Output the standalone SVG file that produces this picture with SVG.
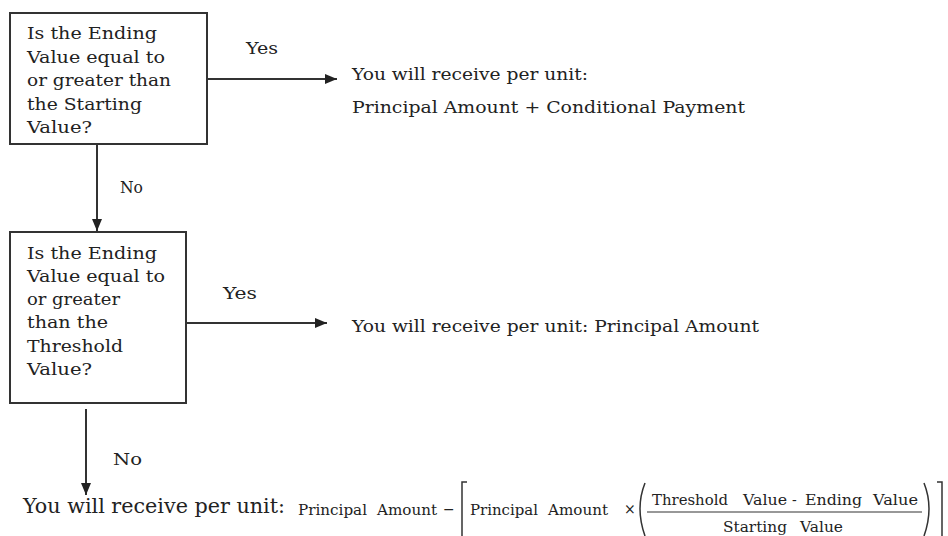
<svg xmlns="http://www.w3.org/2000/svg" width="948" height="536" viewBox="0 0 948 536">
<style>
.box{fill:#fff;stroke:#333;stroke-width:2}
.t{font-family:"DejaVu Serif","Liberation Serif",serif;font-size:17px;fill:#222}
.big{font-family:"DejaVu Serif","Liberation Serif",serif;font-size:21px;fill:#222}
.sm{font-family:"DejaVu Serif","Liberation Serif",serif;font-size:14px;fill:#222}
.ln{stroke:#333;stroke-width:2;fill:none}
.br{stroke:#333;stroke-width:1.5;fill:none}
</style>
<defs>
<marker id="ah" viewBox="0 0 12 10" refX="12" refY="5" markerWidth="12" markerHeight="10" markerUnits="userSpaceOnUse" orient="auto">
<path d="M0,0 L12,5 L0,10 Z" fill="#222"/>
</marker>
</defs>
<g id="q1">
<rect class="box" x="10" y="13" width="197" height="131"/>
<text class="t" x="27" y="39" textLength="130" lengthAdjust="spacingAndGlyphs">Is the Ending</text>
<text class="t" x="27" y="63" textLength="138" lengthAdjust="spacingAndGlyphs">Value equal to</text>
<text class="t" x="27" y="86" textLength="144" lengthAdjust="spacingAndGlyphs">or greater than</text>
<text class="t" x="27" y="110" textLength="115" lengthAdjust="spacingAndGlyphs">the Starting</text>
<text class="t" x="27" y="133" textLength="65" lengthAdjust="spacingAndGlyphs">Value?</text>
</g>
<g id="q2">
<rect class="box" x="10" y="232" width="176" height="171"/>
<text class="t" x="27" y="259" textLength="130" lengthAdjust="spacingAndGlyphs">Is the Ending</text>
<text class="t" x="27" y="282" textLength="138" lengthAdjust="spacingAndGlyphs">Value equal to</text>
<text class="t" x="27" y="305" textLength="93" lengthAdjust="spacingAndGlyphs">or greater</text>
<text class="t" x="27" y="328" textLength="81" lengthAdjust="spacingAndGlyphs">than the</text>
<text class="t" x="27" y="352" textLength="96" lengthAdjust="spacingAndGlyphs">Threshold</text>
<text class="t" x="27" y="375" textLength="65" lengthAdjust="spacingAndGlyphs">Value?</text>
</g>
<g id="r1">
<text class="t" x="352" y="80" textLength="236" lengthAdjust="spacingAndGlyphs">You will receive per unit:</text>
<text class="t" x="352" y="113" textLength="393" lengthAdjust="spacingAndGlyphs">Principal Amount + Conditional Payment</text>
</g>
<g id="r2">
<text class="t" x="352" y="332" textLength="407" lengthAdjust="spacingAndGlyphs">You will receive per unit: Principal Amount</text>
</g>
<g id="r3">
<text class="big" x="23" y="513" textLength="262" lengthAdjust="spacingAndGlyphs">You will receive per unit:</text>
<text class="sm" x="298" y="515" textLength="69" lengthAdjust="spacingAndGlyphs">Principal</text>
<text class="sm" x="377" y="515" textLength="60" lengthAdjust="spacingAndGlyphs">Amount</text>
<text class="sm" x="443" y="514">−</text>
<path class="br" d="M467,482 H462 V536"/>
<text class="sm" x="470" y="515" textLength="68" lengthAdjust="spacingAndGlyphs">Principal</text>
<text class="sm" x="548" y="515" textLength="60" lengthAdjust="spacingAndGlyphs">Amount</text>
<text class="sm" x="624" y="514">×</text>
<path class="br" d="M645,483 Q635,508 645,536"/>
<text class="sm" x="652" y="505" textLength="76" lengthAdjust="spacingAndGlyphs">Threshold</text>
<text class="sm" x="743" y="505" textLength="44" lengthAdjust="spacingAndGlyphs">Value</text>
<text class="sm" x="792" y="505">-</text>
<text class="sm" x="805" y="505" textLength="57" lengthAdjust="spacingAndGlyphs">Ending</text>
<text class="sm" x="873" y="505" textLength="45" lengthAdjust="spacingAndGlyphs">Value</text>
<line x1="647" y1="512" x2="922" y2="512" stroke="#333" stroke-width="1.2"/>
<text class="sm" x="723" y="532" textLength="64" lengthAdjust="spacingAndGlyphs">Starting</text>
<text class="sm" x="800" y="532" textLength="43" lengthAdjust="spacingAndGlyphs">Value</text>
<path class="br" d="M924,483 Q934,508 924,536"/>
<path class="br" d="M937,482 H942 V536"/>
</g>
<g id="connectors">
<line class="ln" x1="207" y1="79" x2="337" y2="79" marker-end="url(#ah)"/>
<text class="t" x="246" y="54" textLength="32" lengthAdjust="spacingAndGlyphs">Yes</text>
<line class="ln" x1="97" y1="144" x2="97" y2="231" marker-end="url(#ah)"/>
<text class="t" x="120" y="193" textLength="23" lengthAdjust="spacingAndGlyphs">No</text>
<line class="ln" x1="186" y1="323" x2="327" y2="323" marker-end="url(#ah)"/>
<text class="t" x="223" y="299" textLength="34" lengthAdjust="spacingAndGlyphs">Yes</text>
<line class="ln" x1="86" y1="409" x2="86" y2="495" marker-end="url(#ah)"/>
<text class="t" x="113" y="465" textLength="29" lengthAdjust="spacingAndGlyphs">No</text>
</g>
</svg>
